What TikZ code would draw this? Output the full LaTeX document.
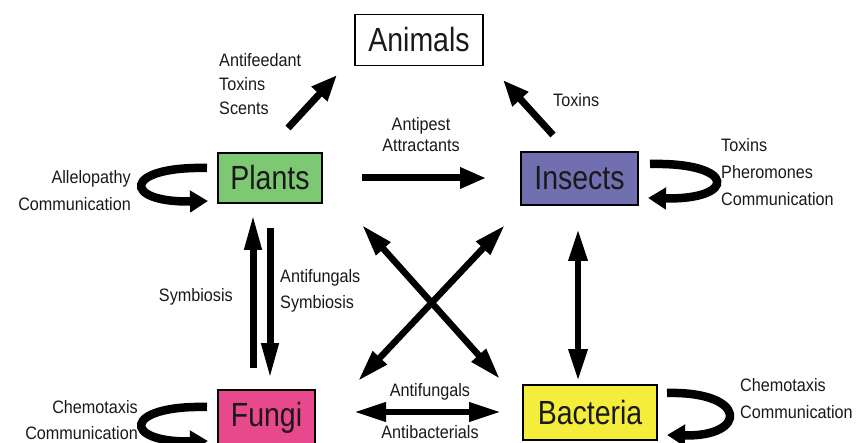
\documentclass[tikz,border=0pt]{standalone}
\usepackage{fontspec}
\setmainfont{Liberation Sans}
\newfontfamily\boxfont[FakeStretch=0.85]{Liberation Sans}
\newfontfamily\labfont[FakeStretch=0.9]{Liberation Sans}
\usetikzlibrary{arrows.meta}
\definecolor{plantc}{RGB}{125,200,115}
\definecolor{insectc}{RGB}{112,112,176}
\definecolor{fungic}{RGB}{232,72,140}
\definecolor{bactc}{RGB}{245,237,60}
\tikzset{
  box/.style={draw=black, line width=1.4pt, inner sep=0pt, font=\boxfont\fontsize{33.5}{36}\selectfont, text=black!90},
  lab/.style={inner sep=0pt, font=\labfont\fontsize{18}{27}\selectfont, text=black!90},
  arr/.style={line width=7pt, -{Triangle[length=26pt,width=20pt]}},
  darr/.style={line width=6.5pt, {Triangle[length=32pt,width=18pt]}-{Triangle[length=32pt,width=18pt]}},
  varr/.style={line width=7pt, -{Triangle[length=36pt,width=16pt]}},
  loop/.style={line width=8.5pt, -{Triangle[length=18pt,width=21pt]}}
}
\begin{document}
\begin{tikzpicture}[x=1pt,y=-1pt]
\useasboundingbox (0,0) rectangle (866,443);
% boxes
\node[box, minimum width=128pt, minimum height=51pt] (animals) at (419,40) {Animals};
\node[box, fill=plantc, minimum width=104pt, minimum height=50pt] (plants) at (270,178) {Plants};
\node[box, fill=insectc, minimum width=117pt, minimum height=53pt] (insects) at (579.5,178.5) {Insects};
\node[box, fill=fungic, minimum width=97pt, minimum height=56pt] (fungi) at (266.5,418) {\raisebox{-3pt}{Fungi}};
\node[box, fill=bactc, minimum width=134pt, minimum height=55pt] (bacteria) at (590,412.5) {Bacteria};
% arrow end points
\coordinate (pa1) at (288,128); \coordinate (pa2) at (337,75);
\coordinate (ia1) at (553,135); \coordinate (ia2) at (503,80);
\coordinate (pi1) at (362,178); \coordinate (pi2) at (486,178);
\coordinate (fp1) at (253,368); \coordinate (fp2) at (253,214);
\coordinate (pf1) at (270,228); \coordinate (pf2) at (270,379);
\coordinate (x1a) at (362,225); \coordinate (x1b) at (500,379);
\coordinate (x2a) at (505,225); \coordinate (x2b) at (358,381);
\coordinate (ib1) at (578,229); \coordinate (ib2) at (578,381);
\coordinate (fb1) at (354,412); \coordinate (fb2) at (501,412);
\coordinate (pl1) at (207,168); \coordinate (pl2) at (208,201);
\coordinate (il1) at (650,164); \coordinate (il2) at (648,198);
\coordinate (fl1) at (207,407); \coordinate (fl2) at (208,441);
\coordinate (bl1) at (667,393); \coordinate (bl2) at (667,435);
% straight arrows
\draw[arr] (pa1) -- (pa2);
\draw[arr] (ia1) -- (ia2);
\draw[arr] (pi1) -- (pi2);
\draw[varr] (fp1) -- (fp2);
\draw[varr] (pf1) -- (pf2);
\draw[darr] (x1a) -- (x1b);
\draw[darr] (x2a) -- (x2b);
\draw[darr] (ib1) -- (ib2);
\draw[darr] (fb1) -- (fb2);
% loops
\draw[loop] (pl1) .. controls (122,166) and (122,203) .. (pl2);
\draw[loop] (il1) .. controls (737,162) and (737,200) .. (il2);
\draw[loop] (fl1) .. controls (122,405) and (122,443) .. (fl2);
\draw[loop] (bl1) .. controls (748,391) and (748,437) .. (bl2);
% labels
\node[lab, align=left, anchor=west] (lpa) at (219,84) {Antifeedant\\[-3pt]Toxins\\[-3pt]Scents};
\node[lab, anchor=west] (lia) at (553,100) {Toxins};
\node[lab, align=center] (lpi) at (421,135) {Antipest\\[-6pt]Attractants};
\node[lab, align=right, anchor=east] (lpl) at (131,191) {Allelopathy\\Communication};
\node[lab, align=left, anchor=west] (lil) at (721,172) {Toxins\\Pheromones\\Communication};
\node[lab, anchor=east] (lfp) at (233,297) {Symbiosis};
\node[lab, align=left, anchor=west] (lpf) at (280,291) {Antifungals\\[-1pt]Symbiosis};
\node[lab, align=right, anchor=east] (lfl) at (138,420) {Chemotaxis\\[-1pt]Communication};
\node[lab, align=left, anchor=west] (lbl) at (740,398.5) {Chemotaxis\\Communication};
\node[lab] (lfb1) at (430,392) {Antifungals};
\node[lab] (lfb2) at (430,432) {Antibacterials};
\end{tikzpicture}
\end{document}
